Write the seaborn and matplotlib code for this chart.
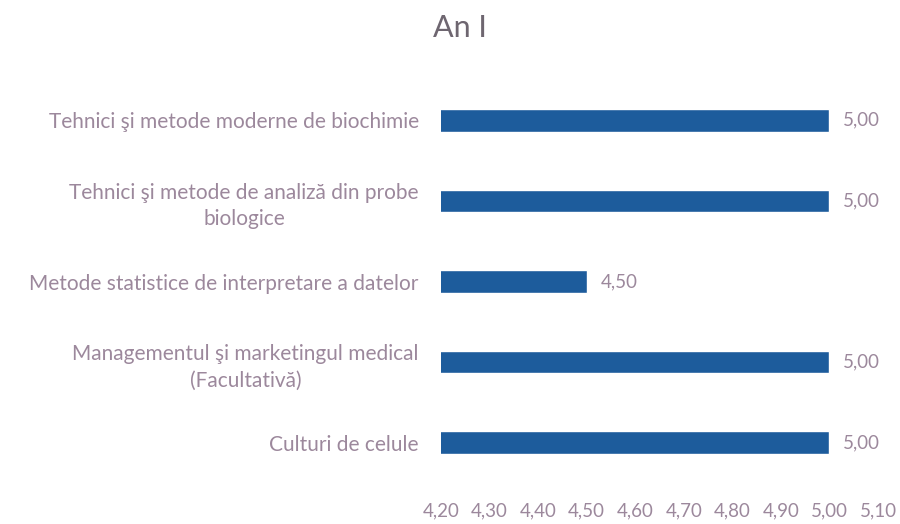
import matplotlib
matplotlib.use("Agg")
import matplotlib.pyplot as plt
import seaborn as sns
import pandas as pd

sns.set_style("white")
plt.rcParams['font.family'] = ['Lato', 'DejaVu Sans']

# data
courses = [
    "Tehnici şi metode moderne de biochimie",
    "Tehnici şi metode de analiză din probe\nbiologice",
    "Metode statistice de interpretare a datelor",
    "Managementul şi marketingul medical\n(Facultativă)",
    "Culturi de celule",
]
scores = [5.00, 5.00, 4.50, 5.00, 5.00]
xticks = [4.2, 4.3, 4.4, 4.5, 4.6, 4.7, 4.8, 4.9, 5.0, 5.1]

df = pd.DataFrame({"course": courses, "score": scores})

text_col = "#9C889C"
bar_col = "#1D5C9C"

fig = plt.figure(figsize=(9, 5.24), dpi=100)
ax = fig.add_axes([441/900, 41/524, 437/900, 403/524])

sns.barplot(data=df, x="score", y="course", orient="h", color=bar_col,
            width=0.28, saturation=1, ax=ax)

ax.set_xlim(4.2, 5.1)
ax.set_xticks(xticks)
ax.set_xticklabels([f"{t:.2f}".replace(".", ",") for t in xticks],
                   color=text_col, fontsize=13.5)
ax.set_yticks(range(len(courses)))
ax.set_yticklabels(courses, color=text_col, fontsize=15)
for lab in ax.get_yticklabels():
    lab.set_multialignment("center")
    lab.set_linespacing(1.4)
ax.tick_params(axis="y", pad=16, length=0)
ax.tick_params(axis="x", pad=14, length=0)
ax.set_xlabel("")
ax.set_ylabel("")
for s in ax.spines.values():
    s.set_visible(False)

ax.bar_label(ax.containers[0],
             labels=[f"{v:.2f}".replace(".", ",") for v in scores],
             padding=10, color=text_col, fontsize=13.5)

fig.suptitle("An I", x=460/900, y=1 - 28/524, va="center",
             fontsize=22, color="#6E6670")

fig.savefig("out.png", dpi=100)
